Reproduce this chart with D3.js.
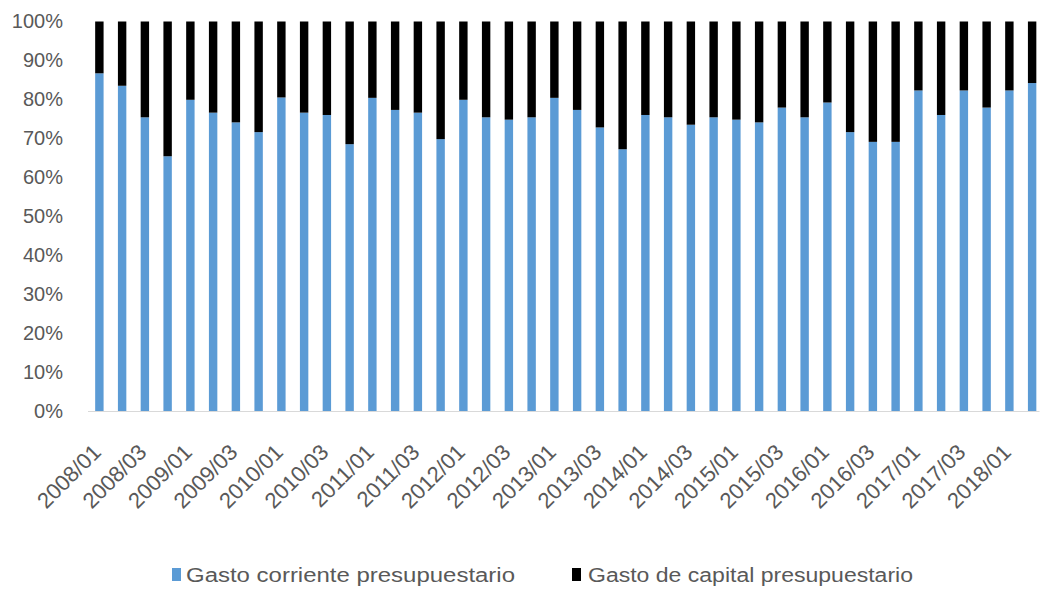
<!DOCTYPE html>
<html>
<head>
<meta charset="utf-8">
<script src="https://cdn.jsdelivr.net/npm/d3@7"></script>
<style>
  html, body { margin: 0; padding: 0; background: #fff; }
  svg { display: block; font-family: "Liberation Sans", Arial, sans-serif; }
</style>
</head>
<body>
<svg id="chart" width="1045" height="590"></svg>
<script>
// Quarterly periods, 2008 Q1 to 2018 Q2
const periods = [];
for (let y = 2008; y <= 2018; y++) {
  for (let q = 1; q <= 4; q++) {
    if (y === 2018 && q > 2) break;
    periods.push(y + "/0" + q);
  }
}

// Share of current spending in total budget spending (%)
const gastoCorriente = [
  86.7, 83.5, 75.4, 65.4, 79.9, 76.6, 74.1, 71.6, 80.5, 76.6, 76.0, 68.5,
  80.4, 77.3, 76.6, 69.8, 79.9, 75.4, 74.8, 75.4, 80.4, 77.3, 72.8, 67.2,
  76.0, 75.4, 73.5, 75.4, 74.8, 74.1, 77.9, 75.4, 79.2, 71.6, 69.1, 69.1,
  82.3, 76.0, 82.3, 77.9, 82.3, 84.2
];
// Share of capital spending (%)
const gastoCapital = gastoCorriente.map(v => +(100 - v).toFixed(1));

const seriesNames = ["Gasto corriente presupuestario", "Gasto de capital presupuestario"];
const seriesColors = ["#5B9BD5", "#000000"];
const yTicks = [0, 10, 20, 30, 40, 50, 60, 70, 80, 90, 100];
// Axis shows every second quarter (Q1 and Q3)
const xTickLabels = periods.filter((p, i) => i % 2 === 0);

const rows = periods.map((p, i) => ({
  period: p,
  corriente: gastoCorriente[i],
  capital: gastoCapital[i]
}));

const svg = d3.select("#chart");
const margin = { left: 88, right: 1.5, top: 21.5, bottom: 179 };
const W = 1045, H = 590;

const x = d3.scaleBand()
  .domain(periods)
  .range([margin.left, W - margin.right])
  .paddingInner(0.63)
  .paddingOuter(0.315);

const y = d3.scaleLinear()
  .domain([0, 100])
  .range([H - margin.bottom, margin.top]);

const stack = d3.stack().keys(["corriente", "capital"]);
const layers = stack(rows);

svg.append("g")
  .selectAll("g")
  .data(layers)
  .join("g")
  .attr("fill", (d, i) => seriesColors[i])
  .selectAll("rect")
  .data(d => d)
  .join("rect")
  .attr("x", d => x(d.data.period))
  .attr("width", x.bandwidth())
  .attr("y", d => y(d[1]))
  .attr("height", d => y(d[0]) - y(d[1]));

// Baseline
svg.append("line")
  .attr("x1", margin.left)
  .attr("x2", W - margin.right - 4)
  .attr("y1", y(0) + 0.5)
  .attr("y2", y(0) + 0.5)
  .attr("stroke", "#d9d9d9")
  .attr("stroke-width", 1.2);

// Y axis labels
const yAxis = d3.axisLeft(y)
  .tickValues(yTicks)
  .tickFormat(d => d + "%")
  .tickSize(0)
  .tickPadding(25);

const gy = svg.append("g")
  .attr("transform", `translate(${margin.left},0)`)
  .call(yAxis);
gy.select(".domain").remove();
gy.selectAll("text")
  .attr("fill", "#595959")
  .style("font-size", "20px")
  .style("font-family", "'Liberation Sans', Arial, sans-serif");

// X axis labels, rotated
const xAxis = d3.axisBottom(x)
  .tickValues(xTickLabels)
  .tickSize(0)
  .tickPadding(0);

const gx = svg.append("g")
  .attr("transform", `translate(0,${y(0)})`)
  .call(xAxis);
gx.select(".domain").remove();
gx.selectAll("text")
  .attr("fill", "#595959")
  .style("font-size", "22px")
  .style("font-family", "'Liberation Sans', Arial, sans-serif")
  .attr("text-anchor", "end")
  .attr("dy", null)
  .attr("y", 0)
  .attr("transform", "translate(3,42.5) rotate(-45)");

// Legend
const legend = svg.append("g");
const legendItems = [
  { sx: 172, tx: 186, len: 329 },
  { sx: 572, tx: 588, len: 325 }
];
legendItems.forEach((it, i) => {
  legend.append("rect")
    .attr("x", it.sx)
    .attr("y", 568)
    .attr("width", 9)
    .attr("height", 13)
    .attr("fill", seriesColors[i]);
  legend.append("text")
    .attr("x", it.tx)
    .attr("y", 582)
    .attr("fill", "#595959")
    .style("font-size", "20px")
    .attr("textLength", it.len)
    .attr("lengthAdjust", "spacingAndGlyphs")
    .text(seriesNames[i]);
});
</script>
</body>
</html>
